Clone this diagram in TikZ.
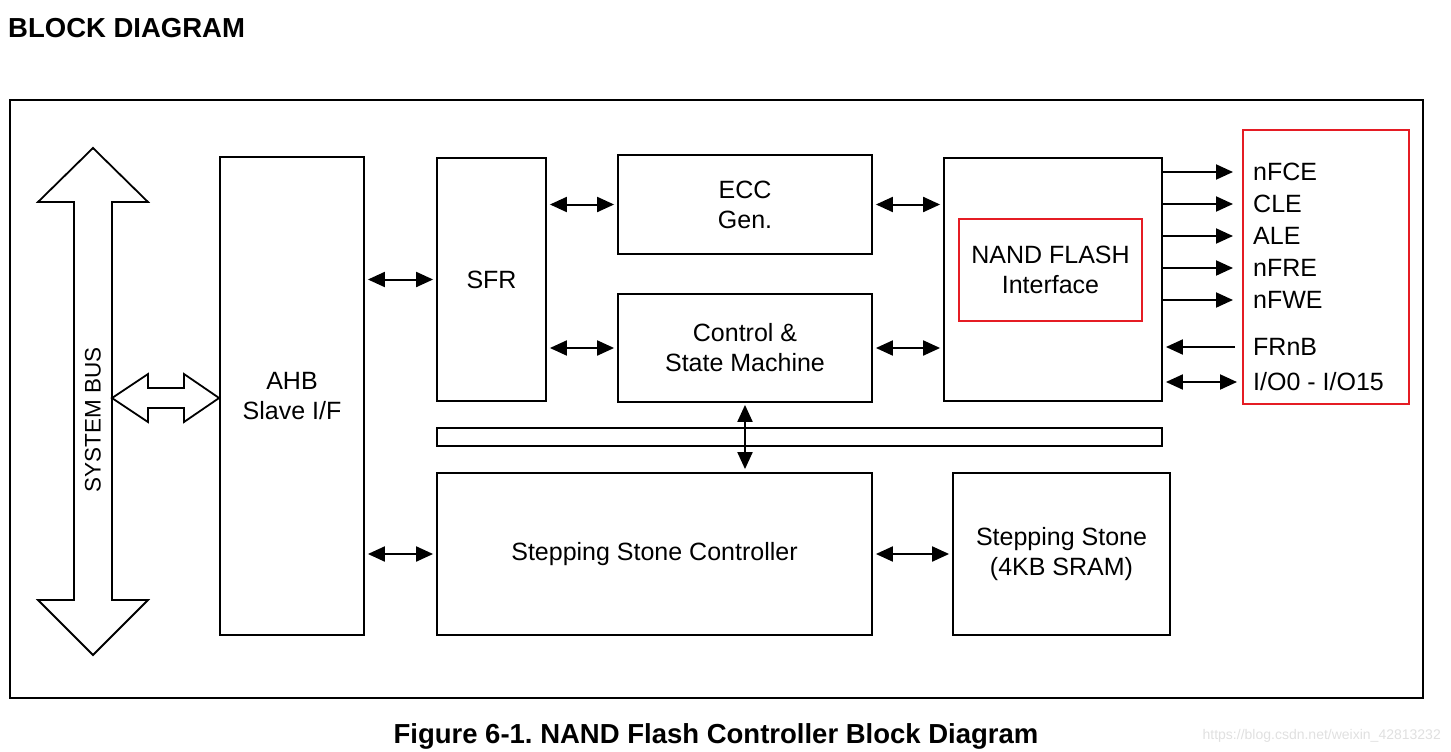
\documentclass[tikz,border=0pt]{standalone}
\usepackage{fontspec}
\setmainfont{Liberation Sans}
\usetikzlibrary{arrows.meta}
\frenchspacing
\definecolor{redbox}{RGB}{229,28,36}
\tikzset{
  box/.style={draw=black, line width=1.8pt, inner sep=0pt, align=center, font=\fontsize{25}{30}\selectfont},
  redframe/.style={draw=redbox, line width=2pt, inner sep=0pt},
  lbl/.style={anchor=west, inner sep=0pt, font=\fontsize{25}{30}\selectfont},
  biarrow/.style={line width=2pt, {Triangle[length=17pt,width=15pt]}-{Triangle[length=17pt,width=15pt]}},
  onearrow/.style={line width=2pt, -{Triangle[length=17pt,width=15pt]}},
  bigarrow/.style={draw=black, line width=1.8pt, fill=white, line join=miter}
}
\begin{document}
\begin{tikzpicture}[x=1pt,y=-1pt]
\useasboundingbox (0,0) rectangle (1451,752);
% title and caption
\node[anchor=base west, inner sep=0pt, font=\fontsize{27.5}{30}\bfseries\selectfont] (title) at (8,38) {BLOCK DIAGRAM};
\node[anchor=base, inner sep=0pt, font=\fontsize{27.5}{30}\bfseries\selectfont] (caption) at (716,743) {Figure 6-1. NAND Flash Controller Block Diagram};
\node[anchor=base east, inner sep=0pt, text=black!12, font=\fontsize{14}{16}\selectfont] (wm) at (1441,739) {https://blog.csdn.net/weixin\_42813232};
% outer frame
\node[draw=black, line width=2.2pt, minimum width=1413pt, minimum height=598pt, inner sep=0pt] (frame) at (716.5,399) {};
% blocks
\node[box, minimum width=144pt, minimum height=478pt] (ahb) at (292,396) {AHB\\Slave I/F};
\node[box, minimum width=109pt, minimum height=243pt] (sfr) at (491.5,279.5) {SFR};
\node[box, minimum width=254pt, minimum height=99pt] (ecc) at (745,204.5) {ECC\\Gen.};
\node[box, minimum width=254pt, minimum height=108pt] (ctrl) at (745,348) {Control \&\\State Machine};
\node[box, minimum width=218pt, minimum height=243pt] (nand) at (1053,279.5) {};
\node[redframe, minimum width=183pt, minimum height=102pt, align=center, font=\fontsize{25}{30}\selectfont] (nandif) at (1050.5,270) {NAND FLASH\\Interface};
\node[box, minimum width=725pt, minimum height=18pt] (bus) at (799.5,437) {};
\node[box, minimum width=435pt, minimum height=162pt] (ssc) at (654.5,554) {Stepping Stone Controller};
\node[box, minimum width=217pt, minimum height=162pt] (sram) at (1061.5,554) {Stepping Stone\\(4KB SRAM)};
\node[redframe, minimum width=166pt, minimum height=274pt] (pins) at (1326,267) {};
% system bus big arrow
\path[bigarrow] (93,148) -- (148,202) -- (112,202) -- (112,600) -- (148,600) -- (93,655) -- (38,600) -- (74,600) -- (74,202) -- (38,202) -- cycle;
\node[rotate=90, inner sep=0pt, font=\fontsize{22.5}{26}\selectfont] (sysbus) at (93,420) {SYSTEM BUS};
\coordinate (busR) at (112,398);
\path[bigarrow] (busR) -- (148,374) -- (148,388) -- (184,388) -- (184,374) -- (ahb.west |- busR) -- (184,422) -- (184,408) -- (148,408) -- (148,422) -- cycle;
% internal connectors
\draw[biarrow, shorten <=3pt, shorten >=3pt] (ahb.east |- sfr.west) -- (sfr.west);
\draw[biarrow, shorten <=3pt, shorten >=3pt] (ahb.east |- ssc.west) -- (ssc.west);
\draw[biarrow, shorten <=3pt, shorten >=3pt] (sfr.east |- ecc.west) -- (ecc.west);
\draw[biarrow, shorten <=3pt, shorten >=3pt] (sfr.east |- ctrl.west) -- (ctrl.west);
\draw[biarrow, shorten <=3pt, shorten >=3pt] (ecc.east) -- (ecc.east -| nand.west);
\draw[biarrow, shorten <=3pt, shorten >=3pt] (ctrl.east) -- (ctrl.east -| nand.west);
\draw[biarrow, shorten <=2pt, shorten >=3pt] (ctrl.south) -- (ssc.north -| ctrl.south);
\draw[biarrow, shorten <=3pt, shorten >=3pt] (ssc.east) -- (sram.west);
% pin labels
\node[lbl] (nfce) at (1253,172) {nFCE};
\node[lbl] (cle) at (1253,204) {CLE};
\node[lbl] (ale) at (1253,236) {ALE};
\node[lbl] (nfre) at (1253,268) {nFRE};
\node[lbl] (nfwe) at (1253,300) {nFWE};
\node[lbl] (frnb) at (1253,347) {FRnB};
\node[lbl] (io) at (1253,382) {I/O0 - I/O15};
\foreach \p in {nfce,cle,ale,nfre,nfwe}{
  \draw[onearrow, shorten >=20pt] (nand.east |- \p.west) -- (\p.west);
}
\draw[onearrow, shorten <=18pt, shorten >=3pt] (frnb.west) -- (nand.east |- frnb.west);
\draw[biarrow, shorten <=3pt, shorten >=16pt] (nand.east |- io.west) -- (io.west);
\end{tikzpicture}
\end{document}
